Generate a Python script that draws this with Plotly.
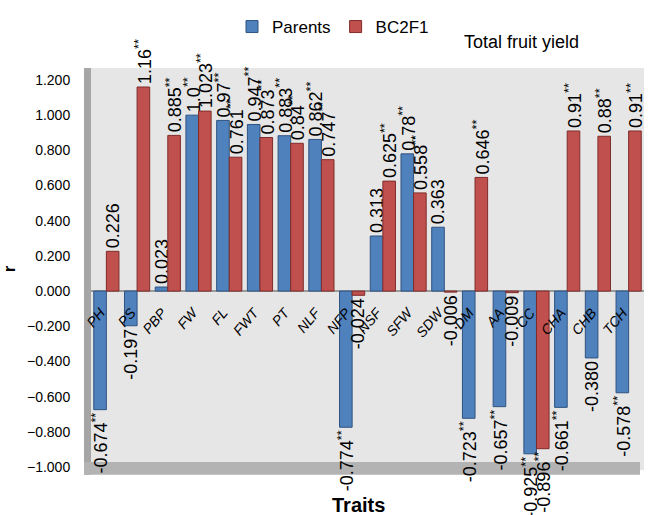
import plotly.graph_objects as go

traits = ["PH", "PS", "PBP", "FW", "FL", "FWT", "PT", "NLF", "NFP", "NSF",
          "SFW", "SDW", "DM", "AA", "CC", "CHA", "CHB", "TCH"]
parents = [-0.674, -0.197, 0.023, 1.0, 0.97, 0.947, 0.883, 0.862, -0.774, 0.313,
           0.78, 0.363, -0.723, -0.657, -0.925, -0.661, -0.380, -0.578]
bc2f1 = [0.226, 1.16, 0.885, 1.023, 0.761, 0.873, 0.84, 0.747, -0.024, 0.625,
         0.558, -0.006, 0.646, -0.009, -0.896, 0.91, 0.88, 0.91]
parents_labels = ["-0.674**", "-0.197", "0.023", "1.0**", "0.97**", "0.947**", "0.883**",
                  "0.862**", "-0.774**", "0.313", "0.78**", "0.363", "-0.723**", "-0.657**",
                  "-0.925**", "-0.661**", "-0.380", "-0.578**"]
bc2f1_labels = ["0.226", "1.16**", "0.885**", "1.023**", "0.761**", "0.873**", "0.84**",
                "0.747**", "-0.024", "0.625**", "0.558**", "-0.006", "0.646**", "-0.009",
                "-0.896**", "0.91**", "0.88**", "0.91**"]
y_ticks = [1.2, 1.0, 0.8, 0.6, 0.4, 0.2, 0.0, -0.2, -0.4, -0.6, -0.8, -1.0]

def fmt(lbls):
    return [l.replace("**", "<sup>**</sup>") for l in lbls]

ymin, ymax = -1.017, 1.268
W, H = 650, 515
ml, mr, mt, mb = 91, 6, 68, 45
ph = H - mt - mb
pw = W - ml - mr

fig = go.Figure()
fig.add_trace(go.Bar(
    name="Parents", x=traits, y=parents, text=fmt(parents_labels),
    marker=dict(color="#4f81bd", line=dict(color="#2f5380", width=1)),
    textposition="outside", textangle=-90, cliponaxis=False,
    textfont=dict(family="Liberation Sans, Arial", size=18, color="#000000"),
    constraintext="none",
))
fig.add_trace(go.Bar(
    name="BC2F1", x=traits, y=bc2f1, text=fmt(bc2f1_labels),
    marker=dict(color="#c0504d", line=dict(color="#7f2c2a", width=1)),
    textposition="outside", textangle=-90, cliponaxis=False,
    textfont=dict(family="Liberation Sans, Arial", size=18, color="#000000"),
    constraintext="none",
))

fig.update_layout(
    width=W, height=H,
    margin=dict(l=ml, r=mr, t=mt, b=mb, autoexpand=False),
    paper_bgcolor="white",
    plot_bgcolor="#e6e6e6",
    barmode="group", bargap=0.18, bargroupgap=0.0,
    font=dict(family="Liberation Sans, Arial", color="black"),
    showlegend=True,
    legend=dict(orientation="h", x=(333 - ml) / pw, xanchor="center",
                y=1 + (mt - 27) / ph, yanchor="middle",
                font=dict(size=17), itemwidth=30, bgcolor="rgba(0,0,0,0)"),
    xaxis=dict(
        range=[-0.5, len(traits) - 0.5],
        anchor="free", position=(0 - ymin) / (ymax - ymin),
        showgrid=False, showline=False, zeroline=False,
        ticks="outside", ticklen=7, tickcolor="rgba(0,0,0,0)",
        ticklabelshift=-6,
        tickangle=-50, tickfont=dict(size=14, style="italic"),
        automargin=False,
    ),
    yaxis=dict(
        range=[ymin, ymax], tickvals=y_ticks, tickformat=".3f",
        showgrid=False, zeroline=True, zerolinecolor="#9a9a9a", zerolinewidth=2,
        showline=False, ticks="outside", ticklen=17, tickcolor="rgba(0,0,0,0)",
        tickfont=dict(size=14), automargin=False,
        title=dict(text="<b>r</b>", font=dict(size=17), standoff=10),
    ),
    shapes=[
        dict(type="rect", xref="paper", yref="paper", x0=-7 / pw, x1=0.0, y0=-0.012, y1=1.0,
             fillcolor="#a6a6a6", line=dict(width=0), layer="below"),
        dict(type="rect", xref="paper", yref="paper", x0=-7 / pw, x1=(640 - ml) / pw,
             y0=-0.012, y1=0.02,
             fillcolor="#b3b3b3", line=dict(width=0), layer="below"),
    ],
    annotations=[
        dict(text="Total fruit yield", xref="paper", yref="paper", x=(521 - ml) / pw,
             y=1 + (mt - 42) / ph, xanchor="center", yanchor="middle", showarrow=False,
             font=dict(size=18)),
        dict(text="<b>Traits</b>", xref="paper", yref="paper", x=(358 - ml) / pw,
             y=-(505 - (H - mb)) / ph, xanchor="center", yanchor="middle",
             showarrow=False, font=dict(size=20)),
    ],
)

fig.write_html("out.html", config={"displayModeBar": False},
               post_script="document.body.style.margin='0';")
